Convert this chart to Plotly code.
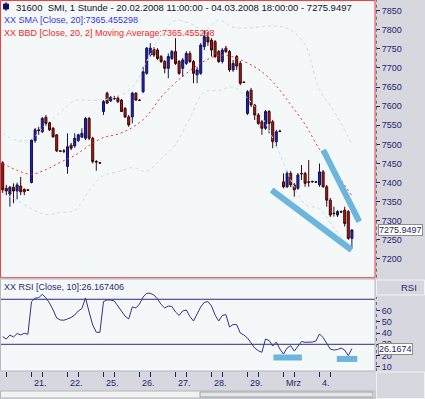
import plotly.graph_objects as go

W, H = 425, 399

# ---------------- data (hourly bars, 20.02.2008 11:00 -> 04.03.2008 18:00) ----------------
bar_idx = list(range(98))
opens = [7452, 7385, 7370, 7388, 7378, 7391, 7382, 7381,
         7400, 7510, 7538, 7533, 7571, 7557, 7542, 7525, 7483, 7483,
         7442, 7498, 7496, 7510, 7519, 7516, 7568, 7516, 7455, 7452,
         7586, 7634, 7614, 7621, 7621, 7616, 7594, 7572, 7572, 7634,
         7616, 7638, 7686, 7734, 7749, 7747, 7730, 7717, 7699, 7725,
         7743, 7717, 7699, 7712, 7738, 7717, 7682, 7686, 7756, 7781,
         7773, 7769, 7743, 7717, 7752, 7743, 7695, 7730, 7712, 7663,
         7581, 7642, 7603, 7577, 7559, 7542, 7586, 7559, 7507, 7535,
         7402, 7389, 7424, 7394, 7385, 7424, 7424, 7402, 7402, 7402,
         7394, 7428, 7389, 7354, 7320, 7315, 7324, 7328, 7324, 7254]
highs = [7456, 7394, 7391, 7398, 7400, 7415, 7385, 7383,
         7514, 7543, 7546, 7572, 7577, 7561, 7546, 7527, 7485, 7488,
         7529, 7504, 7529, 7528, 7542, 7572, 7572, 7520, 7459, 7454,
         7616, 7638, 7627, 7627, 7627, 7619, 7598, 7577, 7638, 7637,
         7619, 7703, 7755, 7765, 7755, 7752, 7734, 7721, 7738, 7747,
         7778, 7721, 7726, 7744, 7744, 7721, 7703, 7765, 7799, 7794,
         7778, 7773, 7747, 7752, 7758, 7747, 7721, 7734, 7718, 7666,
         7642, 7648, 7606, 7582, 7564, 7590, 7590, 7564, 7538, 7538,
         7424, 7430, 7430, 7399, 7425, 7446, 7428, 7459, 7405, 7404,
         7450, 7433, 7394, 7360, 7337, 7328, 7327, 7337, 7328, 7278]
lows = [7373, 7367, 7337, 7346, 7356, 7367, 7367, 7378,
        7398, 7504, 7525, 7530, 7548, 7535, 7517, 7480, 7480, 7477,
        7423, 7485, 7491, 7506, 7517, 7511, 7511, 7450, 7431, 7450,
        7577, 7606, 7611, 7616, 7608, 7585, 7569, 7546, 7555, 7614,
        7614, 7634, 7682, 7730, 7729, 7721, 7713, 7686, 7673, 7721,
        7708, 7682, 7677, 7708, 7713, 7660, 7660, 7682, 7747, 7758,
        7730, 7726, 7713, 7712, 7739, 7690, 7690, 7695, 7655, 7661,
        7577, 7598, 7564, 7551, 7525, 7538, 7529, 7490, 7494, 7532,
        7385, 7386, 7388, 7363, 7381, 7407, 7389, 7389, 7399, 7399,
        7389, 7386, 7337, 7310, 7311, 7310, 7320, 7285, 7250, 7228]
closes = [7381, 7378, 7388, 7378, 7394, 7376, 7376, 7380,
          7511, 7538, 7536, 7568, 7555, 7538, 7520, 7483, 7482, 7482,
          7494, 7490, 7516, 7525, 7529, 7568, 7516, 7455, 7454, 7451,
          7612, 7608, 7623, 7620, 7612, 7586, 7572, 7551, 7634, 7616,
          7615, 7690, 7752, 7752, 7734, 7725, 7717, 7699, 7730, 7743,
          7712, 7686, 7721, 7738, 7717, 7686, 7695, 7760, 7782, 7768,
          7747, 7730, 7717, 7747, 7743, 7695, 7712, 7705, 7660, 7662,
          7638, 7603, 7577, 7555, 7542, 7586, 7555, 7507, 7533, 7534,
          7389, 7424, 7394, 7381, 7420, 7423, 7398, 7401, 7403, 7401,
          7428, 7389, 7354, 7315, 7319, 7324, 7323, 7293, 7254, 7275.9497]

sma_idx = [0, 4, 8, 12, 16, 20, 24, 28, 32, 36, 40, 44, 48, 52, 56, 60, 64, 68, 72, 76, 80, 84, 88, 92, 97]
sma_vals = [7450, 7432, 7422, 7434, 7453, 7471, 7497, 7518, 7527, 7544, 7574, 7624, 7662,
            7693, 7718, 7733, 7729, 7713, 7690, 7653, 7604, 7552, 7487, 7434, 7365.455298]
bb_upper = [7529, 7510, 7514, 7552, 7584, 7615, 7615, 7617, 7626, 7649, 7718, 7786, 7824,
            7817, 7799, 7825, 7807, 7805, 7808, 7810, 7800, 7761, 7643, 7587, 7502]
bb_lower = [7372, 7353, 7331, 7316, 7322, 7327, 7379, 7418, 7428, 7439, 7430, 7462, 7500,
            7569, 7637, 7641, 7650, 7621, 7572, 7496, 7408, 7343, 7331, 7281, 7229]

rsi_vals = [36.8, 34.7, 38.3, 36.5, 39.6, 38.3, 39.8, 38.9, 67.9, 70.9,
            71.4, 74.4, 71.2, 66.7, 60.5, 53.4, 51.6, 51.4, 52.5, 53.8,
            56.0, 59.6, 61.8, 71.2, 58.7, 47.2, 40.7, 40.6, 68.0, 69.4,
            69.3, 68.5, 64.0, 59.6, 55.0, 52.5, 63.2, 62.3, 65.8, 72.0,
            75.3, 75.3, 73.8, 70.3, 65.4, 62.3, 64.0, 63.6, 58.7, 55.6,
            59.6, 60.5, 54.7, 50.7, 56.9, 63.2, 67.2, 68.0, 64.0, 56.0,
            50.7, 55.6, 56.4, 45.4, 47.6, 47.4, 40.0, 38.3, 35.6, 31.2,
            26.7, 24.3, 22.9, 34.7, 33.4, 28.5, 32.0, 25.8, 21.4, 26.7,
            28.8, 24.0, 28.5, 32.5, 31.8, 31.8, 32.0, 32.9, 39.2, 36.0,
            30.7, 25.8, 24.9, 25.4, 26.7, 24.9, 20.0, 26.167406]
rsi_levels = [70, 30]

trend_lo_x = [74.7, 96.9]
trend_lo_y = [7380.6, 7223.5]
trend_hi_x = [89.05, 99.05]
trend_hi_y = [7485.3, 7297.6]
rsi_mark1_x = [75.2, 83.1]
rsi_mark1_y = [18.3, 18.3]
rsi_mark2_x = [92.8, 98.5]
rsi_mark2_y = [17.0, 17.0]

tick_idx = [1, 8, 11, 18, 21, 28, 31, 38, 41, 48, 51, 58, 61, 68, 71, 78, 81, 88, 91]
day_idx = [8, 18, 28, 38, 48, 58, 68, 78, 88]
day_labels = ["21.", "22.", "25.", "26.", "27.", "28.", "29.", "Mrz", "4."]
price_ticks = [7200, 7250, 7300, 7350, 7400, 7450, 7500, 7550, 7600, 7650, 7700, 7750, 7800, 7850]
rsi_ticks = [10, 20, 30, 40, 50, 60]

last_close = 7275.9497
sma_last = 7365.455298
rsi_last = 26.167406

# ---------------- styling helpers ----------------
def px(x):
    return x / W


def py(y):
    return 1 - y / H


NAVY = "#1e1e6e"
FONT = "Liberation Sans"
PLOT_RIGHT = 375.0
MAIN_BOTTOM = 277.7
RSI_TOP = 279.0
RSI_BOTTOM = 371.0

fig = go.Figure()

fig.add_trace(go.Scatter(x=sma_idx, y=bb_upper, mode="lines", xaxis="x", yaxis="y",
                         line=dict(color="#c6deec", width=1, dash="dot", shape="spline"),
                         hoverinfo="skip", showlegend=False))
fig.add_trace(go.Scatter(x=sma_idx, y=bb_lower, mode="lines", xaxis="x", yaxis="y",
                         line=dict(color="#c6deec", width=1, dash="dot", shape="spline"),
                         hoverinfo="skip", showlegend=False))
fig.add_trace(go.Scatter(x=sma_idx, y=sma_vals, mode="lines", xaxis="x", yaxis="y",
                         line=dict(color="#f03232", width=1, dash="2px,3px", shape="spline"),
                         hoverinfo="skip", showlegend=False))
fig.add_trace(go.Candlestick(x=bar_idx, open=opens, high=highs, low=lows, close=closes,
                             xaxis="x", yaxis="y", whiskerwidth=0,
                             increasing=dict(line=dict(color="#14145a", width=1), fillcolor="#2020b4"),
                             decreasing=dict(line=dict(color="#3c0808", width=1), fillcolor="#b01818"),
                             hoverinfo="skip", showlegend=False))
fig.add_trace(go.Scatter(x=trend_lo_x, y=trend_lo_y, mode="lines", xaxis="x", yaxis="y",
                         line=dict(color="#6cb6de", width=6), hoverinfo="skip", showlegend=False))
fig.add_trace(go.Scatter(x=trend_hi_x, y=trend_hi_y, mode="lines", xaxis="x", yaxis="y",
                         line=dict(color="#6cb6de", width=6), hoverinfo="skip", showlegend=False))

fig.add_trace(go.Scatter(x=rsi_mark1_x, y=rsi_mark1_y, mode="lines", xaxis="x", yaxis="y2",
                         line=dict(color="#6cb6de", width=6), hoverinfo="skip", showlegend=False))
fig.add_trace(go.Scatter(x=rsi_mark2_x, y=rsi_mark2_y, mode="lines", xaxis="x", yaxis="y2",
                         line=dict(color="#6cb6de", width=6), hoverinfo="skip", showlegend=False))
fig.add_trace(go.Scatter(x=bar_idx, y=rsi_vals, mode="lines", xaxis="x", yaxis="y2",
                         line=dict(color="#32328a", width=1), hoverinfo="skip", showlegend=False))

x_lo = -2.7 / 3.6
x_hi = (PLOT_RIGHT - 2.7) / 3.6

shapes = []
for lv in rsi_levels:
    shapes.append(dict(type="line", xref="x domain", yref="y2", x0=0, x1=1, y0=lv, y1=lv,
                       line=dict(color="#2c2c78", width=1), layer="below"))
shapes.append(dict(type="line", xref="paper", yref="paper", x0=px(376.5), x1=px(376.5),
                   y0=py(MAIN_BOTTOM), y1=py(0), line=dict(color="#6a6a8a", width=1, dash="dot")))
shapes.append(dict(type="line", xref="paper", yref="paper", x0=px(376.5), x1=px(376.5),
                   y0=py(RSI_BOTTOM), y1=py(297), line=dict(color="#6a6a8a", width=1, dash="dot")))
shapes.append(dict(type="rect", xref="paper", yref="paper", x0=px(0.5), x1=px(PLOT_RIGHT),
                   y0=py(MAIN_BOTTOM), y1=py(0.5), line=dict(color="#f04040", width=1)))
shapes.append(dict(type="rect", xref="paper", yref="paper", x0=px(0.5), x1=px(PLOT_RIGHT),
                   y0=py(RSI_BOTTOM), y1=py(RSI_TOP), line=dict(color="#b8b8c4", width=1)))
shapes.append(dict(type="rect", xref="paper", yref="paper", x0=px(376.5), x1=px(424.5),
                   y0=py(295), y1=py(280), line=dict(color="#f2f2f6", width=1)))
shapes.append(dict(type="rect", xref="paper", yref="paper", x0=px(376.5), x1=px(424.5),
                   y0=py(398.5), y1=py(372), line=dict(color="#f2f2f6", width=1)))
shapes.append(dict(type="rect", xref="paper", yref="paper", x0=px(0.5), x1=px(PLOT_RIGHT),
                   y0=py(398), y1=py(391), line=dict(color="#b4b4b8", width=1), fillcolor="#f2f2f2"))
shapes.append(dict(type="rect", xref="paper", yref="paper", x0=px(200), x1=px(373),
                   y0=py(397), y1=py(392), line=dict(color="#a0a0a6", width=1), fillcolor="#e6e6ea"))
shapes.append(dict(type="line", xref="paper", yref="paper", x0=px(6), x1=px(6),
                   y0=py(11), y1=py(2), line=dict(color="#101060", width=1)))
shapes.append(dict(type="rect", xref="paper", yref="paper", x0=px(3.5), x1=px(8.5),
                   y0=py(9), y1=py(4), line=dict(color="#101060", width=1), fillcolor="#101060"))

annotations = []
title_txt = ("31600\u00a0\u00a0SMI, 1 Stunde - 20.02.2008 11:00:00 - 04.03.2008 18:00:00 - "
             f"{last_close:.4f}")
annotations.append(dict(text=title_txt, x=px(14), y=py(7), xref="paper", yref="paper",
                        xanchor="left", yanchor="middle", showarrow=False,
                        font=dict(family=FONT, size=9.5, color="#141428")))
annotations.append(dict(text=f"XX SMA [Close, 20]:{sma_last:.6f}", x=px(2), y=py(20),
                        xref="paper", yref="paper", xanchor="left", yanchor="middle",
                        showarrow=False, font=dict(family=FONT, size=9, color="#3434e6")))
annotations.append(dict(text=f"XX BBD [Close, 20, 2] Moving Average:{sma_last:.6f}", x=px(2),
                        y=py(33), xref="paper", yref="paper", xanchor="left", yanchor="middle",
                        showarrow=False, font=dict(family=FONT, size=9, color="#f02828")))
annotations.append(dict(text=f"XX RSI [Close, 10]:{rsi_last:.6f}", x=px(2), y=py(287),
                        xref="paper", yref="paper", xanchor="left", yanchor="middle",
                        showarrow=False, font=dict(family=FONT, size=9, color="#28286e")))
annotations.append(dict(text="RSI", x=px(419), y=py(287.5), xref="paper", yref="paper",
                        xanchor="right", yanchor="middle", showarrow=False,
                        font=dict(family=FONT, size=9.5, color=NAVY)))
annotations.append(dict(text=f"{last_close:.4f}", x=px(377.5), y=last_close, xref="paper",
                        yref="y", xanchor="left", yanchor="middle", showarrow=False,
                        bgcolor="#fdfdf4", bordercolor="#8c8c8c", borderwidth=1, borderpad=0,
                        font=dict(family=FONT, size=9, color=NAVY)))
annotations.append(dict(text=f"{rsi_last:.4f}", x=px(377.5), y=rsi_last, xref="paper",
                        yref="y2", xanchor="left", yanchor="middle", showarrow=False,
                        bgcolor="#fdfdf4", bordercolor="#8c8c8c", borderwidth=1, borderpad=0,
                        font=dict(family=FONT, size=9, color=NAVY)))
for d, lab in zip(day_idx, day_labels):
    annotations.append(dict(text=lab, x=d, y=py(383), xref="x", yref="paper",
                            xanchor="left", yanchor="middle", showarrow=False,
                            font=dict(family=FONT, size=9, color=NAVY)))

axis_font = dict(family=FONT, size=9, color=NAVY)

fig.update_layout(
    template="none",
    width=W, height=H,
    margin=dict(l=0, r=0, t=0, b=0, pad=0),
    paper_bgcolor="#d7d7df",
    plot_bgcolor="#f4f8f8",
    showlegend=False,
    boxgap=0.2,
    font=dict(family=FONT, size=9, color=NAVY),
    xaxis=dict(domain=[0, px(PLOT_RIGHT)], anchor="y2", range=[x_lo, x_hi],
               tickmode="array", tickvals=tick_idx, showticklabels=False,
               ticks="outside", ticklen=5, tickwidth=1, tickcolor="#20206e",
               showgrid=False, zeroline=False, showline=False, automargin=False,
               rangeslider=dict(visible=False), fixedrange=True),
    yaxis=dict(domain=[py(MAIN_BOTTOM), 1], anchor="x", side="right", range=[7151, 7878],
               tickmode="array", tickvals=price_ticks, ticks="outside", ticklen=4,
               tickcolor="#20206e", tickfont=axis_font, showgrid=False, zeroline=False,
               showline=False, automargin=False, fixedrange=True),
    yaxis2=dict(domain=[py(RSI_BOTTOM), py(RSI_TOP)], anchor="x", side="right",
                range=[6.3, 88.0], tickmode="array", tickvals=rsi_ticks, ticks="outside",
                ticklen=4, tickcolor="#20206e", tickfont=axis_font, showgrid=False,
                zeroline=False, showline=False, automargin=False, fixedrange=True),
    shapes=shapes,
    annotations=annotations,
)

fig.write_html(
    "out.html",
    config={"displayModeBar": False},
    post_script="document.body.style.margin='0';document.body.style.padding='0';"
                "document.body.style.overflow='hidden';",
)
